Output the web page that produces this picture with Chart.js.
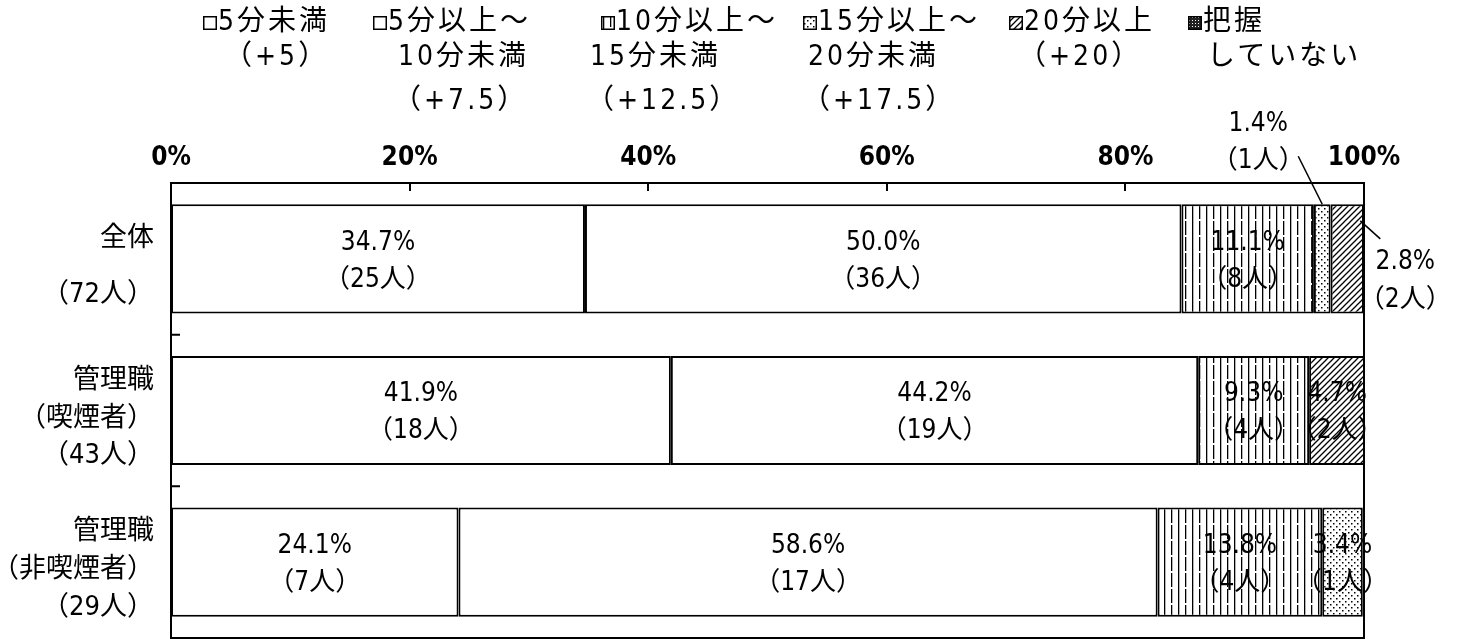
<!DOCTYPE html>
<html lang="ja">

  <head>
    <meta charset="UTF-8">
    <title>喫煙時間の分布</title>
    <script src="https://cdn.jsdelivr.net/npm/chart.js@4/dist/chart.umd.min.js"></script>
    <style>
      body { margin: 0; background: #fff; }
      #wrap { position: relative; width: 1460px; height: 639px; }
      #legend { position: absolute; left: 0; top: 0; width: 1460px; height: 130px; }
      .line {
        position: absolute; white-space: nowrap; color: #000;
        font: 28px "DejaVu Sans Condensed", "Noto Sans CJK JP";
        letter-spacing: 3px; line-height: 30px;
      }
      .line canvas { vertical-align: 0px; margin-right: 1px; }
    </style>
  </head>

  <body>
    <div id="wrap">
      <canvas id="chart" width="1460" height="639"></canvas>
      <div id="legend"></div>
    </div>

    <script>
      // categories (y axis)
      const categories = [
        ['全体', '（72人）'],
        ['管理職', '（喫煙者）', '（43人）'],
        ['管理職', '（非喫煙者）', '（29人）'],
      ]
      // legend labels, one entry per line
      const seriesNames = [
        ['5分未満', '（+5）'],
        ['5分以上～', '10分未満', '（+7.5）'],
        ['10分以上～', '15分未満', '（+12.5）'],
        ['15分以上～', '20分未満', '（+17.5）'],
        ['20分以上', '（+20）'],
        ['把握', 'していない'],
      ]
      // percentages per series
      const pctUnder5 = [34.7, 41.9, 24.1]
      const pct5to10 = [50.0, 44.2, 58.6]
      const pct10to15 = [11.1, 9.3, 13.8]
      const pct15to20 = [1.4, 0, 3.4]
      const pct20plus = [2.8, 4.7, 0]
      const pctUnknown = [0, 0, 0]
      // head counts per series
      const nUnder5 = [25, 18, 7]
      const n5to10 = [36, 19, 17]
      const n10to15 = [8, 4, 4]
      const n15to20 = [1, 0, 1]
      const n20plus = [2, 2, 0]
      const nUnknown = [0, 0, 0]
      const xTicks = [0, 20, 40, 60, 80, 100]

      const pctSeries = [pctUnder5, pct5to10, pct10to15, pct15to20, pct20plus, pctUnknown]
      const nSeries = [nUnder5, n5to10, n10to15, n15to20, n20plus, nUnknown]

      const numFont = '"DejaVu Sans Condensed", "Noto Sans CJK JP"'

      function makePattern(kind) {
        const c = document.createElement('canvas')
        const g = c.getContext('2d')
        if (kind === 'vlines') {
          c.width = 14; c.height = 16
          g.fillStyle = '#fff'; g.fillRect(0, 0, 14, 16)
          g.fillStyle = '#000'
          g.fillRect(2, 0, 1.3, 16)
          g.fillRect(9, 0, 1.3, 11)
          g.fillRect(9, 13, 1.3, 3)
        } else if (kind === 'dots') {
          c.width = 6; c.height = 6
          g.fillStyle = '#fff'; g.fillRect(0, 0, 6, 6)
          g.fillStyle = '#000'
          g.fillRect(1, 1, 1.5, 1.5)
          g.fillRect(4, 4, 1.5, 1.5)
        } else if (kind === 'hatch') {
          c.width = 6; c.height = 6
          g.fillStyle = '#fff'; g.fillRect(0, 0, 6, 6)
          g.strokeStyle = '#000'; g.lineWidth = 1.3
          g.beginPath()
          g.moveTo(-1, 7); g.lineTo(7, -1)
          g.moveTo(-4, 4); g.lineTo(4, -4)
          g.moveTo(2, 10); g.lineTo(10, 2)
          g.stroke()
        } else if (kind === 'dark') {
          c.width = 3; c.height = 3
          g.fillStyle = '#222'; g.fillRect(0, 0, 3, 3)
          g.fillStyle = '#fff'; g.fillRect(1, 1, 1, 1)
        } else {
          c.width = 2; c.height = 2
          g.fillStyle = '#fff'; g.fillRect(0, 0, 2, 2)
        }
        return c
      }
      const patternKinds = ['white', 'white', 'vlines', 'dots', 'hatch', 'dark']
      const ctx = document.getElementById('chart').getContext('2d')
      const fills = patternKinds.map(k => ctx.createPattern(makePattern(k), 'repeat'))

      // labels that sit outside their segment: offsets from the segment, leader line
      const callouts = {
        '3-0': { anchor: 'top', dx: -64, dy1: -80, dy2: -43, line: [[-24, -48], [0, 0]] },
        '4-0': { anchor: 'mid', dx: 58, dy1: 3, dy2: 41, line: [[13, -38], [33, -20]] },
      }

      const frameAndLabels = {
        id: 'frameAndLabels',
        afterDatasetsDraw(chart) {
          const { ctx, chartArea: a, scales: { x } } = chart
          ctx.save()
          ctx.strokeStyle = '#000'
          ctx.lineWidth = 2
          ctx.strokeRect(a.left, a.top, a.right - a.left, a.bottom - a.top)
          ctx.beginPath()
          for (const v of xTicks.slice(1, -1)) {
            const px = Math.round(x.getPixelForValue(v))
            ctx.moveTo(px, a.top); ctx.lineTo(px, a.top + 8)
          }
          const y = chart.scales.y
          for (let i = 1; i < categories.length; i++) {
            const py = (y.getPixelForValue(i - 1) + y.getPixelForValue(i)) / 2
            ctx.moveTo(a.left, py); ctx.lineTo(a.left + 9, py)
          }
          ctx.stroke()

          ctx.fillStyle = '#000'
          ctx.textAlign = 'center'
          ctx.textBaseline = 'middle'
          ctx.font = '26px ' + numFont
          chart.data.datasets.forEach((ds, di) => {
            const meta = chart.getDatasetMeta(di)
            meta.data.forEach((el, j) => {
              const v = pctSeries[di][j]
              if (!v) return
              const t1 = v.toFixed(1) + '%'
              const t2 = '（' + nSeries[di][j] + '人）'
              const cx = (el.x + el.base) / 2
              const co = callouts[di + '-' + j]
              if (co) {
                const top = el.y - el.height / 2
                const ay = co.anchor === 'top' ? top : el.y
                ctx.fillText(t1, cx + co.dx, ay + co.dy1)
                ctx.fillText(t2, cx + co.dx, ay + co.dy2)
                ctx.lineWidth = 1.5
                ctx.beginPath()
                ctx.moveTo(cx + co.line[0][0], ay + co.line[0][1])
                ctx.lineTo(cx + co.line[1][0], ay + co.line[1][1])
                ctx.stroke()
              } else {
                ctx.fillText(t1, cx, el.y - 16)
                ctx.fillText(t2, cx, el.y + 21)
              }
            })
          })
          ctx.restore()
        }
      }

      const chart = new Chart(ctx, {
        type: 'bar',
        data: {
          labels: categories,
          datasets: pctSeries.map((vals, i) => ({
            label: seriesNames[i].join(''),
            data: vals.map(v => v || null),
            backgroundColor: fills[i],
            borderColor: '#000',
            borderWidth: 2,
            borderSkipped: false,
            barPercentage: 0.72,
            categoryPercentage: 1,
          })),
        },
        options: {
          indexAxis: 'y',
          responsive: false,
          animation: false,
          layout: { padding: { top: 130, right: 96, bottom: 1, left: 0 } },
          plugins: { legend: { display: false }, tooltip: { enabled: false } },
          scales: {
            x: {
              position: 'top',
              stacked: true,
              min: 0,
              max: 100,
              afterFit: s => { s.height = 53; s.paddingLeft = 0; s.paddingRight = 0 },
              afterBuildTicks: s => { s.ticks = xTicks.map(v => ({ value: v })) },
              grid: { display: false },
              border: { display: false },
              ticks: {
                color: '#000',
                padding: 1,
                maxRotation: 0,
                font: { family: numFont, size: 26, weight: 'bold' },
                callback: v => v + '%',
              },
            },
            y: {
              stacked: true,
              afterFit: s => { s.width = 171; s.paddingTop = 0; s.paddingBottom = 0 },
              grid: { display: false },
              border: { display: false },
              ticks: {
                color: '#000',
                padding: 9,
                labelOffset: 8,
                font: c => ({
                  family: numFont, size: 27,
                  lineHeight: c.index === 0 ? 2.05 : 1.4,
                }),
              },
            },
          },
        },
        plugins: [frameAndLabels],
      })

      // legend: each line placed where the original puts it
      const legendLines = [
        [[203, 6], [224, 41]],
        [[373, 6], [398, 41], [393, 85]],
        [[601, 6], [590, 41], [586, 85]],
        [[803, 6], [808, 41], [802, 85]],
        [[1009, 6], [1018, 41]],
        [[1188, 6], [1207, 41]],
      ]
      const legend = document.getElementById('legend')
      seriesNames.forEach((lines, i) => {
        lines.forEach((text, k) => {
          const div = document.createElement('div')
          div.className = 'line'
          div.style.left = legendLines[i][k][0] + 'px'
          div.style.top = legendLines[i][k][1] + 'px'
          if (k === 0) {
            const sw = document.createElement('canvas')
            sw.width = 14; sw.height = 14
            const g = sw.getContext('2d')
            g.fillStyle = g.createPattern(makePattern(patternKinds[i]), 'repeat')
            g.fillRect(0, 0, 14, 14)
            g.strokeStyle = '#000'; g.lineWidth = 1.5
            g.strokeRect(0.75, 0.75, 12.5, 12.5)
            div.appendChild(sw)
          }
          div.appendChild(document.createTextNode(text))
          legend.appendChild(div)
        })
      })
    </script>
  </body>

</html>
